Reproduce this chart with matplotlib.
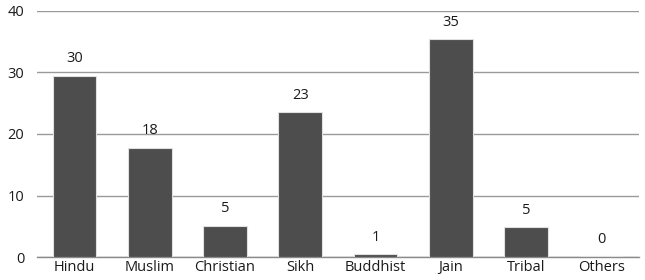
import matplotlib.pyplot as plt

categories = ["Hindu", "Muslim", "Christian", "Sikh", "Buddhist", "Jain", "Tribal", "Others"]
values = [29.5, 17.8, 5.1, 23.5, 0.5, 35.4, 4.9, 0.2]
labels = ["30", "18", "5", "23", "1", "35", "5", "0"]

plt.rcParams["font.family"] = ["Open Sans", "DejaVu Sans"]

fig = plt.figure(figsize=(6.45, 2.8), dpi=100)
ax = fig.add_axes([0.057, 0.082, 0.934, 0.879])

x = range(len(categories))
bars = ax.bar(x, values, width=0.58, color="#4d4d4d", edgecolor="#e0e0e0", linewidth=0.8, zorder=3)
for b, lab in zip(bars, labels):
    ax.text(b.get_x() + b.get_width() / 2, b.get_height() + 1.5, lab,
            ha="center", va="bottom", fontsize=10.5, color="#1a1a1a")

ax.set_xlim(-0.5, len(categories) - 0.5)
ax.set_ylim(0, 40)
ax.set_yticks([0, 10, 20, 30, 40])
ax.set_xticks(list(x))
ax.set_xticklabels(categories)
ax.tick_params(length=0, labelsize=10.5, colors="#1a1a1a")
ax.tick_params(axis="y", pad=9)
ax.tick_params(axis="x", pad=2)
ax.yaxis.grid(True, color="#9a9a9a", linewidth=1.0, zorder=0)
for s in ["top", "right", "left"]:
    ax.spines[s].set_visible(False)
ax.spines["bottom"].set_color("#8a8a8a")
ax.spines["bottom"].set_linewidth(1.0)

fig.savefig("out.png", dpi=100)
